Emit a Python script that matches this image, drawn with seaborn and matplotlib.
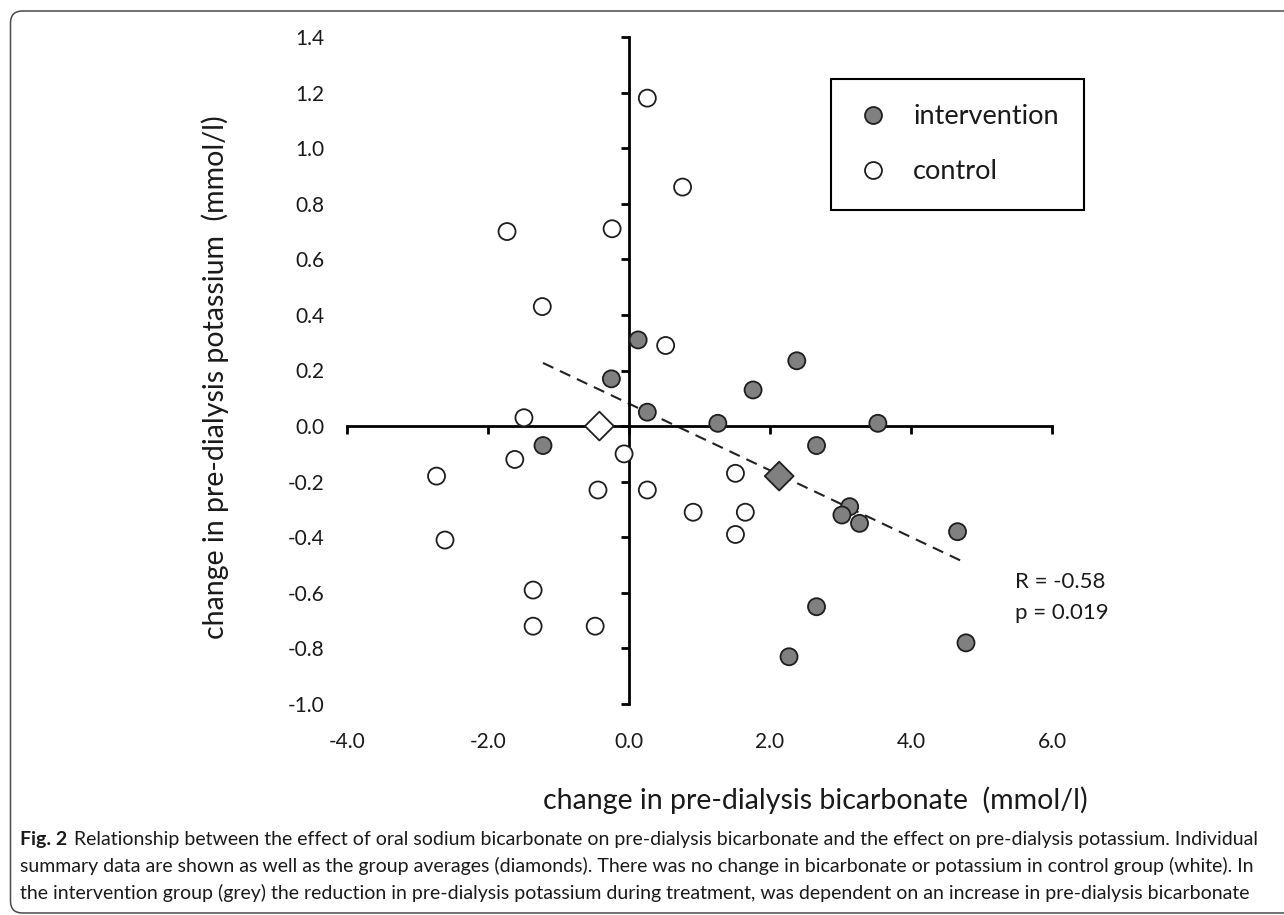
import numpy as np
import pandas as pd
import seaborn as sns
import matplotlib
matplotlib.use("Agg")
import matplotlib.pyplot as plt
from matplotlib.lines import Line2D
from matplotlib.patches import FancyBboxPatch
from matplotlib.transforms import IdentityTransform

# ---------------- data ----------------
control_x = [0.26, 0.76, -1.73, -0.24, -1.23, 0.52, -1.49, -1.62, -2.73, -2.61,
             -0.07, -0.44, 0.26, 1.51, 0.91, 1.65, 1.51, -1.36, -1.36, -0.48]
control_y = [1.18, 0.86, 0.70, 0.71, 0.43, 0.29, 0.03, -0.12, -0.18, -0.41,
             -0.10, -0.23, -0.23, -0.17, -0.31, -0.31, -0.39, -0.59, -0.72, -0.72]
intervention_x = [0.13, -0.25, 0.26, 1.26, 1.76, 2.38, 3.53, -1.22, 2.66, 3.13,
                  3.02, 3.27, 4.66, 2.66, 2.27, 4.78]
intervention_y = [0.31, 0.17, 0.05, 0.01, 0.13, 0.235, 0.01, -0.07, -0.07, -0.29,
                  -0.32, -0.35, -0.38, -0.65, -0.83, -0.78]
mean_groups = ["control", "intervention"]
mean_x = [-0.42, 2.13]
mean_y = [0.0, -0.18]

x_ticks = [-4.0, -2.0, 0.0, 2.0, 4.0, 6.0]
x_ticklabels = ["-4.0", "-2.0", "0.0", "2.0", "4.0", "6.0"]
y_ticks = [-1.0, -0.8, -0.6, -0.4, -0.2, 0.0, 0.2, 0.4, 0.6, 0.8, 1.0, 1.2, 1.4]
y_ticklabels = ["-1.0", "-0.8", "-0.6", "-0.4", "-0.2", "0.0", "0.2", "0.4",
                "0.6", "0.8", "1.0", "1.2", "1.4"]

stats_text = "R = -0.58\np = 0.019"
x_label = "change in pre-dialysis bicarbonate  (mmol/l)"
y_label = "change in pre-dialysis potassium  (mmol/l)"
caption_bold = "Fig. 2"
caption_lines = [
    "Relationship between the effect of oral sodium bicarbonate on pre-dialysis bicarbonate and the effect on pre-dialysis potassium. Individual",
    "summary data are shown as well as the group averages (diamonds). There was no change in bicarbonate or potassium in control group (white). In",
    "the intervention group (grey) the reduction in pre-dialysis potassium during treatment, was dependent on an increase in pre-dialysis bicarbonate",
]

# ---------------- style ----------------
sns.set_theme(style="white")
plt.rcParams["font.family"] = ["Lato", "DejaVu Sans"]
TXT = "#1a1a1a"

W, H = 1284, 915
fig = plt.figure(figsize=(W / 100, H / 100), dpi=100)
ax_l, ax_r, ax_t, ax_b = 347, 1052, 37, 704
ax = fig.add_axes([ax_l / W, 1 - ax_b / H, (ax_r - ax_l) / W, (ax_b - ax_t) / H])

palette = {"intervention": "#808080", "control": "white"}
edge = "#1e1e1e"

df = pd.DataFrame({
    "x": control_x + intervention_x,
    "y": control_y + intervention_y,
    "group": ["control"] * len(control_x) + ["intervention"] * len(intervention_x),
})
means = pd.DataFrame({"x": mean_x, "y": mean_y, "group": mean_groups})

sns.regplot(x=intervention_x, y=intervention_y, scatter=False, ci=None,
            truncate=True, ax=ax,
            line_kws=dict(color="#222222", lw=1.5, ls=(0, (5.5, 3.5)), zorder=2))
sns.scatterplot(data=df, x="x", y="y", hue="group", palette=palette,
                edgecolor=edge, linewidth=1.3, s=150, ax=ax, legend=False,
                zorder=3)
sns.scatterplot(data=means, x="x", y="y", hue="group", palette=palette,
                marker="D", edgecolor=edge, linewidth=1.3, s=215, ax=ax,
                legend=False, zorder=4)

ax.set_xlim(-4, 6)
ax.set_ylim(-1.0, 1.4)
ax.set_xlabel("")
ax.set_ylabel("")
for s in ["top", "right"]:
    ax.spines[s].set_visible(False)
for s in ["left", "bottom"]:
    ax.spines[s].set_position(("data", 0))
    ax.spines[s].set_linewidth(2.0)
    ax.spines[s].set_color("black")
ax.set_xticks(x_ticks)
ax.set_yticks(y_ticks)
ax.tick_params(axis="both", which="both", direction="out", length=6, width=2.0,
               color="black", bottom=True, left=True,
               labelbottom=False, labelleft=False)

secx = ax.secondary_xaxis("bottom")
secx.set_xticks(x_ticks, x_ticklabels)
secx.spines["bottom"].set_visible(False)
secx.tick_params(length=0, pad=20, labelsize=15, labelcolor=TXT)

secy = ax.secondary_yaxis("left")
secy.set_yticks(y_ticks, y_ticklabels)
secy.spines["left"].set_visible(False)
secy.tick_params(length=0, pad=16, labelsize=15, labelcolor=TXT)

ax.text(5.47, -0.617, stats_text, ha="left", va="center", fontsize=16,
        color=TXT, linespacing=1.7)

# legend
handles = [
    Line2D([], [], ls="none", marker="o", markersize=12.2, markerfacecolor=palette["intervention"],
           markeredgecolor=edge, markeredgewidth=1.3, label="intervention"),
    Line2D([], [], ls="none", marker="o", markersize=12.2, markerfacecolor=palette["control"],
           markeredgecolor=edge, markeredgewidth=1.3, label="control"),
]
leg = ax.legend(handles=handles, loc="upper left",
                bbox_to_anchor=(831 / W, 1 - 79 / H), bbox_transform=fig.transFigure,
                frameon=True, fancybox=False, edgecolor="black", framealpha=1,
                fontsize=19.5, handlelength=1.22, handletextpad=0.87,
                labelspacing=1.1, borderpad=0.94, borderaxespad=0)
leg.get_frame().set_linewidth(1.5)
for t in leg.get_texts():
    t.set_color(TXT)

# axis titles
fig.text(815 / W, 1 - 800 / H, x_label, ha="center", va="center", fontsize=20.5,
         color=TXT)
fig.text(215 / W, 1 - 377 / H, y_label, ha="center", va="center", fontsize=20.5,
         rotation=90, color=TXT)

# caption
renderer = fig.canvas.get_renderer()
line_y = [839, 866, 893]
cap_size = 14.0
bold = fig.text(20 / W, 1 - line_y[0] / H, caption_bold, ha="left", va="center",
                fontsize=cap_size, fontweight="bold", family=["Lato", "DejaVu Sans"],
                color=TXT)
bb = bold.get_window_extent(renderer=renderer)
cap_texts = [fig.text((bb.x1 + 7) / W, 1 - line_y[0] / H, caption_lines[0], ha="left",
                      va="center", fontsize=cap_size, color=TXT)]
for txt, yy in zip(caption_lines[1:], line_y[1:]):
    cap_texts.append(fig.text(20 / W, 1 - yy / H, txt, ha="left", va="center",
                              fontsize=cap_size, color=TXT))
# shrink caption if any line overruns the right margin
max_right = max(t.get_window_extent(renderer=renderer).x1 for t in cap_texts)
if max_right > 1272:
    f = (1272 - 20) / (max_right - 20)
    for t in cap_texts:
        t.set_fontsize(cap_size * f)
    bold.set_fontsize(cap_size * f)
    bb = bold.get_window_extent(renderer=renderer)
    cap_texts[0].set_x((bb.x1 + 7) / W)

# outer rounded frame
frame = FancyBboxPatch((10.5, 2), 1400, 902, boxstyle="round,pad=0,rounding_size=12",
                       transform=IdentityTransform(), fill=False,
                       edgecolor="#4a4a4a", linewidth=1.1)
fig.add_artist(frame)

fig.savefig("out.png", dpi=100)
